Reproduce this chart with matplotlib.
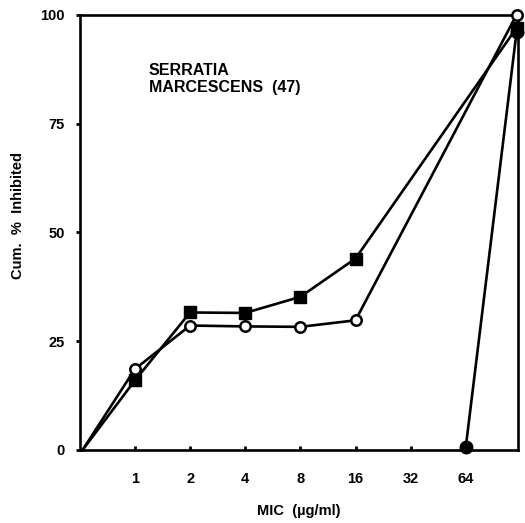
#!/usr/bin/env python3

import matplotlib
matplotlib.use("Agg")
import matplotlib.pyplot as plt

plt.rcParams["font.family"] = ["Liberation Sans", "DejaVu Sans"]
plt.rcParams["font.weight"] = "bold"

# x positions of MIC categories (origin, 1 .. 64, last column)
tick_pos = [1, 2, 3, 4, 5, 6, 7]
tick_labels = ["1", "2", "4", "8", "16", "32", "64"]

# filled squares
sq_x = [0.05, 1, 2, 3, 4, 5, 7.92]
sq_y = [0, 16, 31.6, 31.5, 35.2, 44, 97]

# open circles
oc_x = [0.05, 1, 2, 3, 4, 5, 7.92]
oc_y = [0, 18.6, 28.6, 28.4, 28.3, 29.8, 100]

# filled circles
fc_x = [7, 7.92]
fc_y = [0.7, 96]


def main():
    fig = plt.figure(figsize=(5.25, 5.23), dpi=100)
    ax = fig.add_axes([0.152, 0.1396, 0.835, 0.832])

    lw = 1.9
    ax.plot(sq_x, sq_y, color="k", lw=lw, marker="s", ms=8,
            mfc="k", mec="k", markevery=list(range(1, len(sq_x))),
            clip_on=False, zorder=3)
    ax.plot(oc_x, oc_y, color="k", lw=lw, marker="o", ms=7.5,
            mfc="white", mec="k", mew=1.8,
            markevery=list(range(1, len(oc_x))), clip_on=False, zorder=4)
    ax.plot(fc_x, fc_y, color="k", lw=lw, marker="o", ms=9,
            mfc="k", mec="k", clip_on=False, zorder=3)

    ax.set_xlim(0, 7.95)
    ax.set_ylim(0, 100)
    ax.set_xticks(tick_pos)
    ax.set_xticklabels(tick_labels)
    ax.set_yticks([0, 25, 50, 75, 100])
    ax.set_yticklabels(["0", "25", "50", "75", "100"])

    for s in ax.spines.values():
        s.set_linewidth(1.9)

    ax.tick_params(axis="x", direction="in", length=3, width=2,
                   pad=16, labelsize=10.5)
    ax.tick_params(axis="y", direction="out", length=3, width=2,
                   pad=8, labelsize=10.5)
    for t in ax.get_xticklabels() + ax.get_yticklabels():
        t.set_fontweight("bold")

    ax.set_xlabel("MIC  (\u00b5g/ml)", fontsize=10.5, fontweight="bold")
    ax.xaxis.set_label_coords(0.5, -0.124)
    ax.set_ylabel("Cum.  %  Inhibited", fontsize=10.5, fontweight="bold")
    ax.yaxis.set_label_coords(-0.125, 0.54)

    ax.text(1.25, 89, "SERRATIA\nMARCESCENS  (47)", fontsize=11.5,
            fontweight="bold", va="top", ha="left", linespacing=1.15)

    fig.savefig("out.png", dpi=100)


main()
